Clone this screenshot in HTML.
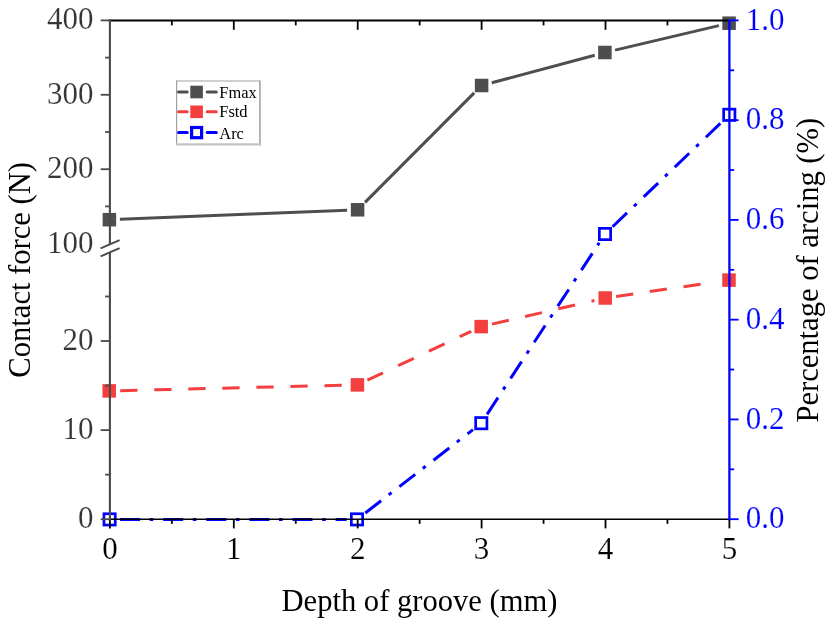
<!DOCTYPE html>
<html><head><meta charset="utf-8"><style>
html,body{margin:0;padding:0;background:#fff;}
svg{display:block;filter:blur(0.35px);}
text{font-family:"Liberation Serif",serif;}
</style></head><body>
<svg width="826" height="620" viewBox="0 0 826 620">
<rect width="826" height="620" fill="#fff"/>
<line x1="119.89" y1="219.28" x2="347.11" y2="210.22" stroke="#4e4e4e" stroke-width="3"/>
<line x1="365.02" y1="202.37" x2="474.18" y2="92.93" stroke="#4e4e4e" stroke-width="3"/>
<line x1="491.74" y1="82.79" x2="594.76" y2="55.21" stroke="#4e4e4e" stroke-width="3"/>
<line x1="615.12" y1="50.09" x2="718.88" y2="25.61" stroke="#4e4e4e" stroke-width="3"/>
<path d="M120.20 390.63L137.49 390.22M154.24 389.81L171.53 389.39M188.28 388.99L205.57 388.57M222.32 388.17L239.61 387.75M256.36 387.34L273.65 386.92M290.40 386.52L307.69 386.10M324.44 385.70L341.73 385.28" stroke="#f43f3f" stroke-width="3" fill="none"/>
<path d="M367.35 380.21L383.00 372.84M398.16 365.71L413.81 358.34M428.96 351.20L444.61 343.83M459.77 336.69L471.25 331.29" stroke="#f43f3f" stroke-width="3" fill="none"/>
<path d="M491.92 324.13L508.78 320.24M525.10 316.48L541.95 312.59M558.28 308.82L575.13 304.93M591.46 301.17L594.48 300.47" stroke="#f43f3f" stroke-width="3" fill="none"/>
<path d="M616.09 296.43L633.21 293.95M649.79 291.55L666.91 289.08M683.49 286.68L700.61 284.21" stroke="#f43f3f" stroke-width="3" fill="none"/>
<path d="M120.10 519.40L140.10 519.40M149.70 519.40L153.30 519.40M163.20 519.40L183.20 519.40M192.80 519.40L196.40 519.40M206.30 519.40L226.30 519.40M235.90 519.40L239.50 519.40M249.40 519.40L269.40 519.40M279.00 519.40L282.60 519.40M292.50 519.40L312.50 519.40M322.10 519.40L325.70 519.40M335.60 519.40L346.50 519.40" stroke="#0000ff" stroke-width="3" fill="none"/>
<path d="M365.30 512.97L381.12 500.73M388.71 494.86L391.56 492.65M399.39 486.59L415.20 474.35M422.80 468.48L425.64 466.27M433.47 460.22L449.29 447.97M456.88 442.10L459.73 439.90M467.56 433.84L473.00 429.63" stroke="#0000ff" stroke-width="3" fill="none"/>
<path d="M487.05 414.41L497.99 397.67M503.24 389.64L505.21 386.62M510.63 378.34L521.58 361.60M526.83 353.56L528.80 350.55M534.22 342.26L545.16 325.52M550.41 317.49L552.38 314.48M557.80 306.19L568.75 289.45M574.00 281.41L575.97 278.40M581.39 270.12L592.33 253.38M597.59 245.34L599.25 242.79" stroke="#0000ff" stroke-width="3" fill="none"/>
<path d="M612.58 226.73L627.01 212.89M633.94 206.24L636.54 203.75M643.69 196.90L658.12 183.06M665.05 176.41L667.65 173.92M674.79 167.07L689.23 153.23M696.16 146.58L698.76 144.09M705.90 137.24L720.34 123.40" stroke="#0000ff" stroke-width="3" fill="none"/>
<rect x="102.65" y="212.95" width="13.5" height="13.5" fill="#4e4e4e"/>
<rect x="350.85" y="203.05" width="13.5" height="13.5" fill="#4e4e4e"/>
<rect x="474.85" y="78.75" width="13.5" height="13.5" fill="#4e4e4e"/>
<rect x="598.15" y="45.75" width="13.5" height="13.5" fill="#4e4e4e"/>
<rect x="722.35" y="16.45" width="13.5" height="13.5" fill="#4e4e4e"/>
<rect x="102.45" y="384.15" width="13.5" height="13.5" fill="#f43f3f"/>
<rect x="350.65" y="378.15" width="13.5" height="13.5" fill="#f43f3f"/>
<rect x="474.45" y="319.85" width="13.5" height="13.5" fill="#f43f3f"/>
<rect x="598.45" y="291.25" width="13.5" height="13.5" fill="#f43f3f"/>
<rect x="722.25" y="273.35" width="13.5" height="13.5" fill="#f43f3f"/>
<rect x="103.95" y="513.75" width="11.30" height="11.30" fill="none" stroke="#0000ff" stroke-width="2.7"/>
<rect x="351.35" y="513.75" width="11.30" height="11.30" fill="none" stroke="#0000ff" stroke-width="2.7"/>
<rect x="475.65" y="417.55" width="11.30" height="11.30" fill="none" stroke="#0000ff" stroke-width="2.7"/>
<rect x="599.35" y="228.35" width="11.30" height="11.30" fill="none" stroke="#0000ff" stroke-width="2.7"/>
<rect x="723.65" y="109.15" width="11.30" height="11.30" fill="none" stroke="#0000ff" stroke-width="2.7"/>
<line x1="108.90" y1="519.25" x2="729.40" y2="519.25" stroke="#000" stroke-width="1.5"/>
<line x1="109.90" y1="519.20" x2="109.90" y2="528.40" stroke="#000" stroke-width="1.8"/>
<line x1="233.80" y1="519.20" x2="233.80" y2="528.40" stroke="#000" stroke-width="1.8"/>
<line x1="357.70" y1="519.20" x2="357.70" y2="528.40" stroke="#000" stroke-width="1.8"/>
<line x1="481.60" y1="519.20" x2="481.60" y2="528.40" stroke="#000" stroke-width="1.8"/>
<line x1="605.50" y1="519.20" x2="605.50" y2="528.40" stroke="#000" stroke-width="1.8"/>
<line x1="729.40" y1="519.20" x2="729.40" y2="528.40" stroke="#000" stroke-width="1.8"/>
<line x1="171.85" y1="519.20" x2="171.85" y2="523.80" stroke="#000" stroke-width="1.8"/>
<line x1="295.75" y1="519.20" x2="295.75" y2="523.80" stroke="#000" stroke-width="1.8"/>
<line x1="419.65" y1="519.20" x2="419.65" y2="523.80" stroke="#000" stroke-width="1.8"/>
<line x1="543.55" y1="519.20" x2="543.55" y2="523.80" stroke="#000" stroke-width="1.8"/>
<line x1="667.45" y1="519.20" x2="667.45" y2="523.80" stroke="#000" stroke-width="1.8"/>
<line x1="108.90" y1="20.40" x2="729.40" y2="20.40" stroke="#000" stroke-width="2.0"/>
<line x1="233.80" y1="20.40" x2="233.80" y2="29.80" stroke="#000" stroke-width="1.8"/>
<line x1="357.70" y1="20.40" x2="357.70" y2="29.80" stroke="#000" stroke-width="1.8"/>
<line x1="481.60" y1="20.40" x2="481.60" y2="29.80" stroke="#000" stroke-width="1.8"/>
<line x1="605.50" y1="20.40" x2="605.50" y2="29.80" stroke="#000" stroke-width="1.8"/>
<line x1="171.85" y1="20.40" x2="171.85" y2="25.40" stroke="#000" stroke-width="1.8"/>
<line x1="295.75" y1="20.40" x2="295.75" y2="25.40" stroke="#000" stroke-width="1.8"/>
<line x1="419.65" y1="20.40" x2="419.65" y2="25.40" stroke="#000" stroke-width="1.8"/>
<line x1="543.55" y1="20.40" x2="543.55" y2="25.40" stroke="#000" stroke-width="1.8"/>
<line x1="667.45" y1="20.40" x2="667.45" y2="25.40" stroke="#000" stroke-width="1.8"/>
<line x1="109.90" y1="19.40" x2="109.90" y2="244.50" stroke="#4a4a4a" stroke-width="2.1"/>
<line x1="109.90" y1="252.30" x2="109.90" y2="520.20" stroke="#4a4a4a" stroke-width="2.1"/>
<line x1="100.70" y1="20.40" x2="109.90" y2="20.40" stroke="#4a4a4a" stroke-width="1.8"/>
<line x1="100.70" y1="94.80" x2="109.90" y2="94.80" stroke="#4a4a4a" stroke-width="1.8"/>
<line x1="100.70" y1="169.20" x2="109.90" y2="169.20" stroke="#4a4a4a" stroke-width="1.8"/>
<line x1="105.10" y1="57.60" x2="109.90" y2="57.60" stroke="#4a4a4a" stroke-width="1.8"/>
<line x1="105.10" y1="132.00" x2="109.90" y2="132.00" stroke="#4a4a4a" stroke-width="1.8"/>
<line x1="105.10" y1="206.40" x2="109.90" y2="206.40" stroke="#4a4a4a" stroke-width="1.8"/>
<line x1="100.70" y1="519.20" x2="109.90" y2="519.20" stroke="#4a4a4a" stroke-width="1.8"/>
<line x1="100.70" y1="430.10" x2="109.90" y2="430.10" stroke="#4a4a4a" stroke-width="1.8"/>
<line x1="100.70" y1="341.00" x2="109.90" y2="341.00" stroke="#4a4a4a" stroke-width="1.8"/>
<line x1="105.10" y1="474.65" x2="109.90" y2="474.65" stroke="#4a4a4a" stroke-width="1.8"/>
<line x1="105.10" y1="385.55" x2="109.90" y2="385.55" stroke="#4a4a4a" stroke-width="1.8"/>
<line x1="105.10" y1="296.45" x2="109.90" y2="296.45" stroke="#4a4a4a" stroke-width="1.8"/>
<line x1="100.60" y1="248.40" x2="119.60" y2="240.20" stroke="#4a4a4a" stroke-width="2.0"/>
<line x1="100.60" y1="256.40" x2="119.60" y2="248.20" stroke="#4a4a4a" stroke-width="2.0"/>
<line x1="729.40" y1="19.40" x2="729.40" y2="520.20" stroke="#0000ff" stroke-width="2.3"/>
<line x1="729.40" y1="519.20" x2="738.60" y2="519.20" stroke="#0000ff" stroke-width="1.8"/>
<line x1="729.40" y1="419.44" x2="738.60" y2="419.44" stroke="#0000ff" stroke-width="1.8"/>
<line x1="729.40" y1="319.68" x2="738.60" y2="319.68" stroke="#0000ff" stroke-width="1.8"/>
<line x1="729.40" y1="219.92" x2="738.60" y2="219.92" stroke="#0000ff" stroke-width="1.8"/>
<line x1="729.40" y1="120.16" x2="738.60" y2="120.16" stroke="#0000ff" stroke-width="1.8"/>
<line x1="729.40" y1="20.40" x2="738.60" y2="20.40" stroke="#0000ff" stroke-width="1.8"/>
<line x1="729.40" y1="469.32" x2="734.20" y2="469.32" stroke="#0000ff" stroke-width="1.8"/>
<line x1="729.40" y1="369.56" x2="734.20" y2="369.56" stroke="#0000ff" stroke-width="1.8"/>
<line x1="729.40" y1="269.80" x2="734.20" y2="269.80" stroke="#0000ff" stroke-width="1.8"/>
<line x1="729.40" y1="170.04" x2="734.20" y2="170.04" stroke="#0000ff" stroke-width="1.8"/>
<line x1="729.40" y1="70.28" x2="734.20" y2="70.28" stroke="#0000ff" stroke-width="1.8"/>
<text transform="translate(93.50,29.30) scale(1,1.035)" text-anchor="end" fill="#353535" font-size="31" stroke="#fff" stroke-width="0.15">400</text>
<text transform="translate(93.50,103.70) scale(1,1.035)" text-anchor="end" fill="#353535" font-size="31" stroke="#fff" stroke-width="0.15">300</text>
<text transform="translate(93.50,178.10) scale(1,1.035)" text-anchor="end" fill="#353535" font-size="31" stroke="#fff" stroke-width="0.15">200</text>
<text transform="translate(93.50,252.50) scale(1,1.035)" text-anchor="end" fill="#353535" font-size="31" stroke="#fff" stroke-width="0.15">100</text>
<text transform="translate(93.50,349.90) scale(1,1.035)" text-anchor="end" fill="#353535" font-size="31" stroke="#fff" stroke-width="0.15">20</text>
<text transform="translate(93.50,439.00) scale(1,1.035)" text-anchor="end" fill="#353535" font-size="31" stroke="#fff" stroke-width="0.15">10</text>
<text transform="translate(93.50,528.10) scale(1,1.035)" text-anchor="end" fill="#353535" font-size="31" stroke="#fff" stroke-width="0.15">0</text>
<text transform="translate(109.90,559.20) scale(1,1.035)" text-anchor="middle" fill="#000" font-size="31" stroke="#fff" stroke-width="0.15">0</text>
<text transform="translate(233.80,559.20) scale(1,1.035)" text-anchor="middle" fill="#000" font-size="31" stroke="#fff" stroke-width="0.15">1</text>
<text transform="translate(357.70,559.20) scale(1,1.035)" text-anchor="middle" fill="#000" font-size="31" stroke="#fff" stroke-width="0.15">2</text>
<text transform="translate(481.60,559.20) scale(1,1.035)" text-anchor="middle" fill="#000" font-size="31" stroke="#fff" stroke-width="0.15">3</text>
<text transform="translate(605.50,559.20) scale(1,1.035)" text-anchor="middle" fill="#000" font-size="31" stroke="#fff" stroke-width="0.15">4</text>
<text transform="translate(729.40,559.20) scale(1,1.035)" text-anchor="middle" fill="#000" font-size="31" stroke="#fff" stroke-width="0.15">5</text>
<text transform="translate(745.80,528.40) scale(1,1.035)" text-anchor="start" fill="#0000ff" font-size="31" stroke="#fff" stroke-width="0.15">0.0</text>
<text transform="translate(745.80,428.64) scale(1,1.035)" text-anchor="start" fill="#0000ff" font-size="31" stroke="#fff" stroke-width="0.15">0.2</text>
<text transform="translate(745.80,328.88) scale(1,1.035)" text-anchor="start" fill="#0000ff" font-size="31" stroke="#fff" stroke-width="0.15">0.4</text>
<text transform="translate(745.80,229.12) scale(1,1.035)" text-anchor="start" fill="#0000ff" font-size="31" stroke="#fff" stroke-width="0.15">0.6</text>
<text transform="translate(745.80,129.36) scale(1,1.035)" text-anchor="start" fill="#0000ff" font-size="31" stroke="#fff" stroke-width="0.15">0.8</text>
<text transform="translate(745.80,29.60) scale(1,1.035)" text-anchor="start" fill="#0000ff" font-size="31" stroke="#fff" stroke-width="0.15">1.0</text>
<text transform="translate(419.50,610.70) scale(1,1.055)" text-anchor="middle" fill="#000" font-size="30.6">Depth of groove (mm)</text>
<text transform="translate(29.90,269.80) rotate(-90) scale(1,1.055)" text-anchor="middle" fill="#000" font-size="30.6">Contact force (N)</text>
<text transform="translate(817.70,270.20) rotate(-90) scale(1,1.055)" text-anchor="middle" fill="#000" font-size="30.6">Percentage of arcing (%)</text>
<rect x="176.6" y="81.1" width="83.3" height="63.3" fill="#fff"/>
<line x1="176.60" y1="81.10" x2="259.90" y2="81.10" stroke="#c0c0c0" stroke-width="1.5"/>
<line x1="176.60" y1="80.40" x2="176.60" y2="144.40" stroke="#a0a0a0" stroke-width="1.2"/>
<line x1="259.90" y1="80.40" x2="259.90" y2="145.40" stroke="#a8a8a8" stroke-width="1.7"/>
<line x1="176.00" y1="144.40" x2="260.70" y2="144.40" stroke="#c4c4c4" stroke-width="2.2"/>
<line x1="178.5" y1="92" x2="187.2" y2="92" stroke="#4e4e4e" stroke-width="3" stroke-linecap="round"/>
<line x1="207.2" y1="92" x2="216.3" y2="92" stroke="#4e4e4e" stroke-width="3" stroke-linecap="round"/>
<rect x="190.3" y="85.7" width="12.6" height="12.6" fill="#4e4e4e"/>
<line x1="178.5" y1="111.8" x2="187.2" y2="111.8" stroke="#f43f3f" stroke-width="3" stroke-linecap="round"/>
<line x1="207.2" y1="111.8" x2="216.3" y2="111.8" stroke="#f43f3f" stroke-width="3" stroke-linecap="round"/>
<rect x="190.3" y="105.5" width="12.6" height="12.6" fill="#f43f3f"/>
<line x1="178.5" y1="132.6" x2="187.2" y2="132.6" stroke="#0000ff" stroke-width="3" stroke-linecap="round"/>
<line x1="207.2" y1="132.6" x2="216.3" y2="132.6" stroke="#0000ff" stroke-width="3" stroke-linecap="round"/>
<rect x="191.6" y="127.49999999999999" width="10.0" height="10.2" fill="none" stroke="#0000ff" stroke-width="3.2"/>
<text transform="translate(219.30,97.50) scale(1,1.03)" text-anchor="start" fill="#000" font-size="16.4">Fmax</text>
<text transform="translate(219.30,117.30) scale(1,1.03)" text-anchor="start" fill="#000" font-size="16.4">Fstd</text>
<text transform="translate(219.30,138.60) scale(1,1.03)" text-anchor="start" fill="#000" font-size="16.4">Arc</text>
</svg>
</body></html>
